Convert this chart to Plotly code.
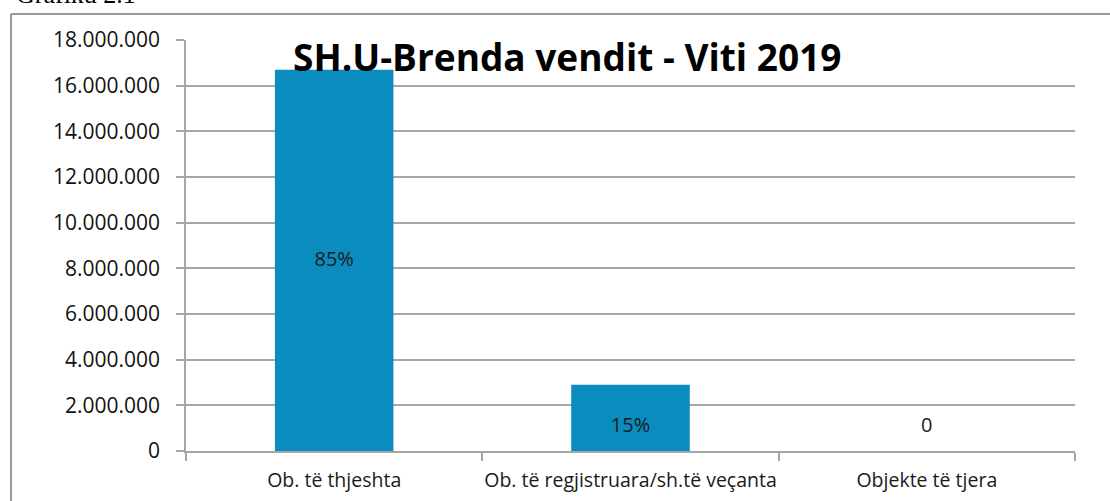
import plotly.graph_objects as go

categories = ["Ob. të thjeshta", "Ob. të regjistruara/sh.të veçanta", "Objekte të tjera"]
values = [16700000, 2900000, 0]
labels = ["85%", "15%", "0"]
label_y = [8300000, 1050000, 1050000]
y_ticks = [0, 2000000, 4000000, 6000000, 8000000, 10000000, 12000000, 14000000, 16000000, 18000000]
y_ticktext = ["0", "2.000.000", "4.000.000", "6.000.000", "8.000.000", "10.000.000",
              "12.000.000", "14.000.000", "16.000.000", "18.000.000"]
title = "SH.U-Brenda vendit - Viti 2019"
caption = "Grafiku 2.1"

W, H = 1110, 501
L, R, T, B = 186, 35, 40, 50
pw, ph = W - L - R, H - T - B

def px_x(p):
    return (p - L) / pw

def px_y(p):
    return (H - B - p) / ph

fig = go.Figure()
fig.add_trace(go.Bar(
    x=categories, y=values, width=0.4,
    marker=dict(color="#0A8CBF", line=dict(width=0)),
    hoverinfo="skip",
))
fig.add_trace(go.Scatter(
    x=categories, y=label_y, mode="text", text=labels,
    textfont=dict(family="Open Sans", size=20, color="#1a1a1a"),
    hoverinfo="skip",
))

fig.update_layout(
    width=W, height=H,
    margin=dict(l=L, r=R, t=T, b=B, pad=0, autoexpand=False),
    paper_bgcolor="white", plot_bgcolor="white",
    showlegend=False,
    xaxis=dict(
        showgrid=False, showline=True, linecolor="#A6A6A6", linewidth=1.5,
        ticks="outside", tickson="boundaries", ticklen=8, tickcolor="#A6A6A6", tickwidth=1.5,
        tickfont=dict(family="Open Sans", size=19.5, color="#1a1a1a"),
        tickangle=0, automargin=False,
        ticklabelstandoff=11,
        range=[-0.5, 2.5], fixedrange=True,
    ),
    yaxis=dict(
        range=[0, 18000000], tickvals=y_ticks, ticktext=y_ticktext,
        showgrid=True, gridcolor="#A6A6A6", gridwidth=1.5,
        showline=True, linecolor="#A6A6A6", linewidth=1.5,
        ticks="outside", ticklen=8, tickcolor="#A6A6A6", tickwidth=1.5,
        tickfont=dict(family="Open Sans", size=21, color="#111111"),
        ticklabelstandoff=12, automargin=False,
        zeroline=False, fixedrange=True,
    ),
    shapes=[
        dict(type="line", xref="paper", yref="paper",
             x0=px_x(11), x1=px_x(W + 5), y0=px_y(14), y1=px_y(14),
             line=dict(color="#999999", width=2)),
        dict(type="line", xref="paper", yref="paper",
             x0=px_x(11), x1=px_x(11), y0=px_y(14), y1=px_y(H + 5),
             line=dict(color="#999999", width=2)),
    ],
    annotations=[
        dict(text=f"<b>{title}</b>", xref="paper", yref="paper",
             x=px_x(567), y=px_y(57), xanchor="center", yanchor="middle",
             showarrow=False, font=dict(family="Open Sans", size=37, color="#000000")),
        dict(text=caption, xref="paper", yref="paper",
             x=px_x(14), y=px_y(11), xanchor="left", yanchor="bottom",
             showarrow=False, font=dict(family="Liberation Serif", size=26, color="#000000")),
    ],
)

fig.write_html("out.html", config={"displayModeBar": False},
               post_script="document.body.style.margin='0';")
